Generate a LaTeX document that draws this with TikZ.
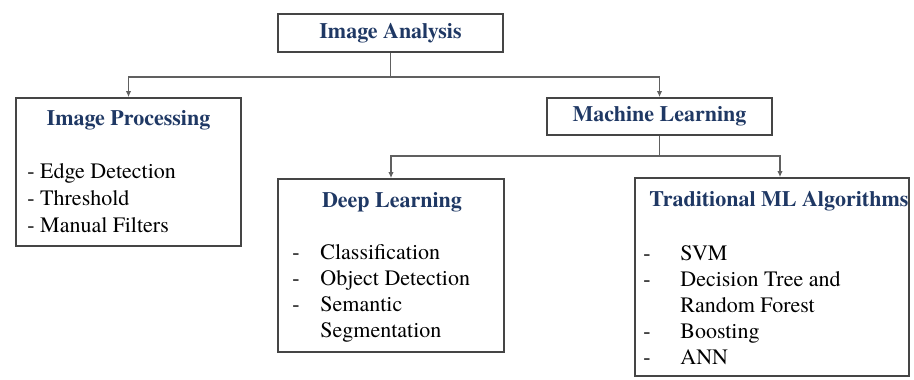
\documentclass[tikz,border=0pt]{standalone}
\usepackage{fontspec}
\setmainfont{texgyretermes-regular.otf}[BoldFont=texgyretermes-bold.otf]
\usetikzlibrary{calc,arrows.meta}
\definecolor{titleblue}{HTML}{1F3864}
\definecolor{boxgray}{HTML}{454545}

\begin{document}
\begin{tikzpicture}[x=0.75pt,y=-0.75pt,
        box/.style={draw=boxgray, line width=1.3pt, fill=white, inner sep=0pt},
        head/.style={font=\rmfamily\fontsize{16.5}{19.5}\selectfont\bfseries, text=titleblue, inner sep=0pt},
        items/.style={font=\rmfamily\fontsize{16.5}{19.5}\selectfont, inner sep=0pt, anchor=base west},
        conn/.style={draw=gray!75!black, line width=1.2pt, -{Latex[length=4.5pt,width=4pt]}}]
    \useasboundingbox (0,0) rectangle (914,379);

    % boxes
    \node[box, head, minimum width=168.75pt, minimum height=28.5pt]
        (ia) at (390.5,33) {Image Analysis};
    \node[box, minimum width=168.75pt, minimum height=111pt]
        (ip) at (128.5,172) {};
    \node[box, head, minimum width=168.75pt, minimum height=27.75pt]
        (ml) at (659.5,116.5) {Machine Learning};
    \node[box, minimum width=169.5pt, minimum height=129.75pt]
        (dl) at (391,265.5) {};
    \node[box, minimum width=205.5pt, minimum height=148.5pt]
        (tml) at (772,277) {};

    % titles
    \node[head] (ipt) at ($(ip.north)+(0,23)$) {Image Processing};
    \node[head] (dlt) at ($(dl.north)+(1,24)$) {Deep Learning};
    \node[head, anchor=west] (tmlt) at ($(tml.north west)+(15,24)$) {Traditional ML Algorithms};

    % lists
    \node[items] (ipl) at ($(ip.north west)+(12,81)$)
        {\begin{tabular}[t]{@{}l@{}}- Edge Detection\\[0.75pt] - Threshold\\[0.75pt] - Manual Filters\end{tabular}};
    \node[items] (dll) at ($(dl.north west)+(15,81)$)
        {\begin{tabular}[t]{@{}p{21pt}@{}l@{}}-& Classification\\ -& Object Detection\\ -& Semantic\\ & Segmentation\end{tabular}};
    \node[items] (tmll) at ($(tml.north west)+(9,83)$)
        {\begin{tabular}[t]{@{}p{27.75pt}@{}l@{}}-& SVM\\ -& Decision Tree and\\ & Random Forest\\ -& Boosting\\ -& ANN\end{tabular}};

    % connectors
    \draw[conn] (ia.south) -- ++(0,24) -| (ip.north);
    \draw[conn] (ia.south) -- ++(0,24) -| (ml.north);
    \draw[conn] (ml.south) -- ++(0,20) -| (dl.north);
    \draw[conn] (ml.south) -- ++(0,20) -| ($(tml.north)+(8,0)$);
\end{tikzpicture}
\end{document}
